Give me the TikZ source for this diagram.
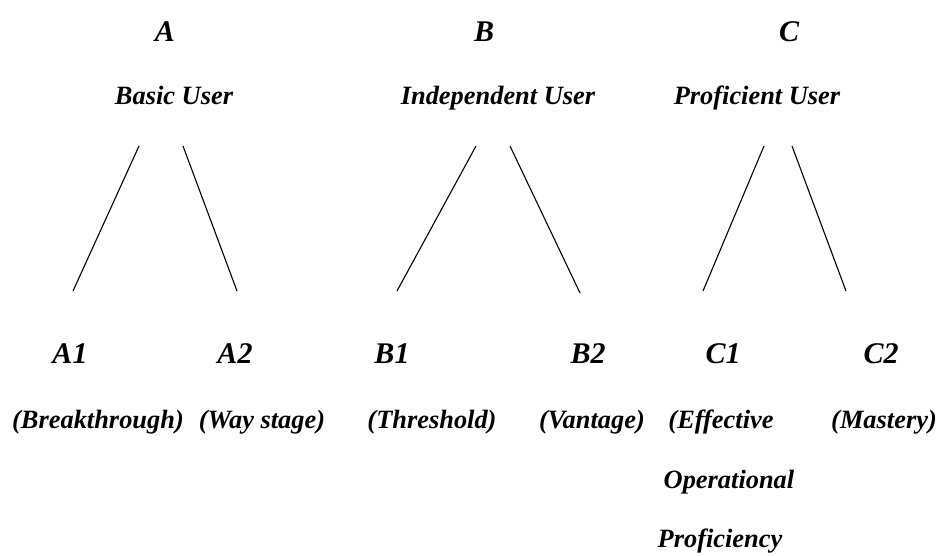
\documentclass[tikz,border=0pt]{standalone}
\usepackage{fontspec}
\setmainfont{Liberation Serif}
\begin{document}
\begin{tikzpicture}[x=1pt,y=-1pt,
  big/.style={font=\fontsize{30}{34}\selectfont\bfseries\itshape, inner sep=0pt, anchor=base},
  small/.style={font=\fontsize{26.4}{30}\selectfont\bfseries\itshape, inner sep=0pt, anchor=base},
  branch/.style={draw=black, line width=1.1pt}]
\useasboundingbox (0,0) rectangle (937,555);
% level headings
\node[big] (A) at (165,41) {A};
\node[big] (B) at (484,41) {B};
\node[big] (C) at (789,41) {C};
\node[small] (Au) at (174,104) {Basic User};
\node[small] (Bu) at (498,104) {Independent User};
\node[small] (Cu) at (757,104) {Proficient User};
% line end points
\coordinate (a1t) at (139,146); \coordinate (a1b) at (73,291);
\coordinate (a2t) at (183,146); \coordinate (a2b) at (237,291);
\coordinate (b1t) at (476,146); \coordinate (b1b) at (397,291);
\coordinate (b2t) at (510,146); \coordinate (b2b) at (580,293);
\coordinate (c1t) at (764,146); \coordinate (c1b) at (703,291);
\coordinate (c2t) at (792,146); \coordinate (c2b) at (846,291);
\draw[branch] (a1t) -- (a1b);
\draw[branch] (a2t) -- (a2b);
\draw[branch] (b1t) -- (b1b);
\draw[branch] (b2t) -- (b2b);
\draw[branch] (c1t) -- (c1b);
\draw[branch] (c2t) -- (c2b);
% sub levels
\node[big] (A1) at (70,363) {A1};
\node[big] (A2) at (235,363) {A2};
\node[big] (B1) at (392,363) {B1};
\node[big] (B2) at (588,363) {B2};
\node[big] (C1) at (723,363) {C1};
\node[big] (C2) at (881,363) {C2};
\node[small] (A1d) at (98,428) {(Breakthrough)};
\node[small] (A2d) at (262,428) {(Way stage)};
\node[small] (B1d) at (432,428) {(Threshold)};
\node[small] (B2d) at (592,428) {(Vantage)};
\node[small] (C1d) at (721,428) {(Effective};
\node[small] (C1e) at (729,488) {Operational};
\node[small] (C1f) at (720,547) {Proficiency};
\node[small] (C2d) at (884,428) {(Mastery)};
\end{tikzpicture}
\end{document}
